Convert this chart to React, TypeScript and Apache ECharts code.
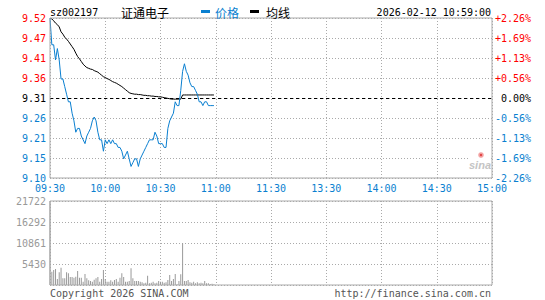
import React, { useEffect, useRef } from "react";
import * as echarts from "echarts";

// ---- data ----
const TIME_LABELS = ["09:30", "10:00", "10:30", "11:00", "11:30", "13:30", "14:00", "14:30", "15:00"];
const PRICE_LABELS = ["9.10", "9.15", "9.21", "9.26", "9.31", "9.36", "9.41", "9.47", "9.52"];
const PCT_LABELS = ["-2.26%", "-1.69%", "-1.13%", "-0.56%", " 0.00%", "+0.56%", "+1.13%", "+1.69%", "+2.26%"];
const VOL_LABELS = ["", "5430", "10861", "16292", "21722"];
const PRE_CLOSE = 9.31;
const MAX_PCT = 2.26;
const VOL_MAX = 21722;
const TOTAL_MINUTES = 240;

const PRICES = [
  9.52, 9.45, 9.45, 9.41, 9.44, 9.41, 9.36, 9.36, 9.34, 9.32,
  9.30, 9.30, 9.27, 9.25, 9.22, 9.23, 9.23, 9.21, 9.20, 9.19,
  9.21, 9.22, 9.23, 9.25, 9.26, 9.25, 9.22, 9.20, 9.20, 9.17,
  9.20, 9.19, 9.20, 9.19, 9.20, 9.19, 9.19, 9.18, 9.18, 9.17,
  9.15, 9.16, 9.17, 9.15, 9.13, 9.14, 9.15, 9.15, 9.13, 9.15,
  9.16, 9.17, 9.18, 9.19, 9.20, 9.20, 9.20, 9.22, 9.21, 9.19,
  9.19, 9.19, 9.18, 9.18, 9.23, 9.25, 9.26, 9.27, 9.30, 9.29,
  9.29, 9.33, 9.38, 9.40, 9.38, 9.37, 9.35, 9.34, 9.34, 9.33,
  9.32, 9.30, 9.30, 9.29, 9.30, 9.30, 9.29, 9.29, 9.29, 9.29,
];

const AVG = [
  9.520, 9.518, 9.513, 9.507, 9.503, 9.497, 9.484, 9.478, 9.470, 9.465,
  9.459, 9.452, 9.445, 9.438, 9.428, 9.419, 9.413, 9.406, 9.399, 9.394,
  9.390, 9.388, 9.386, 9.385, 9.382, 9.380, 9.378, 9.374, 9.370, 9.366,
  9.364, 9.361, 9.359, 9.356, 9.353, 9.351, 9.349, 9.346, 9.343, 9.340,
  9.336, 9.332, 9.328, 9.324, 9.322, 9.321, 9.320, 9.320, 9.319, 9.319,
  9.318, 9.317, 9.317, 9.316, 9.316, 9.315, 9.315, 9.314, 9.314, 9.313,
  9.313, 9.312, 9.311, 9.310, 9.309, 9.308, 9.307, 9.307, 9.307, 9.307,
  9.307, 9.307, 9.318, 9.318, 9.318, 9.318, 9.318, 9.318, 9.318, 9.318,
  9.318, 9.318, 9.318, 9.318, 9.318, 9.318, 9.318, 9.318, 9.318, 9.318,
];

const VOLUMES = [
  21722, 3450, 3880, 4140, 1550, 3280, 4480, 1720, 1720, 3280,
  3020, 2070, 2070, 1900, 2150, 3620, 1900, 1900, 860, 2840,
  1720, 1210, 1030, 860, 1380, 1720, 2070, 860, 1550, 3880,
  1550, 860, 860, 1210, 860, 1290, 1550, 860, 1900, 3020,
  2070, 860, 860, 1030, 4310, 1720, 1030, 1030, 1030, 860,
  690, 430, 600, 2410, 430, 600, 860, 430, 600, 1030,
  860, 860, 600, 690, 1290, 2590, 1030, 1550, 2840, 170,
  1030, 2760, 10800, 1030, 1030, 1290, 690, 600, 860, 430,
  690, 430, 600, 430, 1030, 430, 430, 260, 300, 200,
];

const BLUE = "#0a7fd0";
const RED = "#ff0000";
const GRAY = "#aaaaaa";
const MONO = "DejaVu Sans Mono";
const CJK = "Noto Sans CJK SC";

export default function App() {
  const ref = useRef<HTMLDivElement>(null);

  useEffect(() => {
    if (!ref.current) return;
    const chart = echarts.init(ref.current, undefined, { renderer: "svg" });
    const step = (PRE_CLOSE * MAX_PCT) / 100 / 4;
    const norm = (p: number) => (p - PRE_CLOSE) / step;
    const signColor = (v: any) => {
      const n = parseFloat(v);
      return n > 0.001 ? RED : n < -0.001 ? BLUE : "#000";
    };
    const dotted = { show: true, lineStyle: { color: GRAY, type: [1, 2] as any, width: 1 } };

    const text = (t: string, x: number, y: number, fill: string, font: string, align = "left") => ({
      type: "text",
      x,
      y,
      z: 50,
      style: {
        text: t,
        fill,
        font,
        textAlign: align,
        align,
        textVerticalAlign: "middle",
        verticalAlign: "middle",
      },
    });

    chart.setOption({
      animation: false,
      backgroundColor: "#fff",
      grid: [
        { left: 50, right: 53, top: 18, height: 160 },
        { left: 50, right: 53, top: 201, height: 84 },
      ],
      xAxis: [
        {
          gridIndex: 0,
          type: "value",
          min: 0,
          max: TOTAL_MINUTES,
          interval: 30,
          axisLine: { show: false },
          axisTick: { show: false },
          splitLine: dotted,
          axisLabel: {
            formatter: (v: number) => TIME_LABELS[Math.round(v / 30)],
            color: BLUE,
            fontFamily: MONO,
            fontSize: 10,
            margin: 5,
            showMinLabel: true,
            showMaxLabel: true,
          },
        },
        {
          gridIndex: 1,
          type: "value",
          min: 0,
          max: TOTAL_MINUTES,
          interval: 30,
          axisLine: { show: false },
          axisTick: { show: false },
          splitLine: dotted,
          axisLabel: { show: false },
        },
      ],
      yAxis: [
        {
          gridIndex: 0,
          type: "value",
          min: -4,
          max: 4,
          interval: 1,
          position: "left",
          axisLine: { show: false },
          axisTick: { show: false },
          splitLine: dotted,
          axisLabel: {
            formatter: (v: number) => PRICE_LABELS[Math.round(v) + 4],
            color: signColor,
            fontFamily: MONO,
            fontSize: 10,
            margin: 4,
            showMinLabel: true,
            showMaxLabel: true,
          },
        },
        {
          gridIndex: 0,
          type: "value",
          min: -4,
          max: 4,
          interval: 1,
          position: "right",
          axisLine: { show: false },
          axisTick: { show: false },
          splitLine: { show: false },
          axisLabel: {
            formatter: (v: number) => PCT_LABELS[Math.round(v) + 4],
            color: signColor,
            fontFamily: MONO,
            fontSize: 10,
            margin: 3,
            showMinLabel: true,
            showMaxLabel: true,
          },
        },
        {
          gridIndex: 1,
          type: "value",
          min: 0,
          max: VOL_MAX,
          interval: VOL_MAX / 4,
          position: "left",
          axisLine: { show: false },
          axisTick: { show: false },
          splitLine: dotted,
          axisLabel: {
            formatter: (v: number) => VOL_LABELS[Math.round(v / (VOL_MAX / 4))],
            color: "#999",
            fontFamily: MONO,
            fontSize: 10,
            margin: 4,
            showMinLabel: true,
            showMaxLabel: true,
          },
        },
      ],
      series: [
        {
          type: "line",
          xAxisIndex: 0,
          yAxisIndex: 0,
          data: AVG.map((p, i) => [i, norm(p)]),
          showSymbol: false,
          symbol: "none",
          lineStyle: { color: "#000", width: 1 },
          z: 3,
        },
        {
          type: "line",
          xAxisIndex: 0,
          yAxisIndex: 0,
          data: PRICES.map((p, i) => [i, norm(p)]),
          showSymbol: false,
          symbol: "none",
          lineStyle: { color: BLUE, width: 1 },
          z: 4,
          markLine: {
            silent: true,
            symbol: "none",
            label: { show: false },
            lineStyle: { color: "#000", type: [3, 3], width: 1 },
            data: [{ yAxis: 0 }],
          },
        },
        {
          type: "bar",
          xAxisIndex: 1,
          yAxisIndex: 2,
          data: VOLUMES.map((v, i) => [i, v]),
          barWidth: 1,
          itemStyle: { color: "#999" },
        },
      ],
      graphic: [
        // borders
        { type: "rect", z: 40, shape: { x: 50, y: 18, width: 442, height: 160 }, style: { fill: "none", stroke: GRAY, lineWidth: 1 } },
        { type: "rect", z: 40, shape: { x: 50, y: 201, width: 442, height: 84 }, style: { fill: "none", stroke: GRAY, lineWidth: 1 } },
        // header
        text("sz002197", 50, 12, "#000", `10px "${MONO}"`),
        text("证通电子", 121, 12, "#000", `12px "${CJK}"`),
        { type: "rect", z: 50, shape: { x: 201, y: 10, width: 9, height: 3 }, style: { fill: BLUE } },
        text("价格", 215, 12, BLUE, `12px "${CJK}"`),
        { type: "rect", z: 50, shape: { x: 250, y: 10, width: 9, height: 3 }, style: { fill: "#000" } },
        text("均线", 266, 12, "#000", `12px "${CJK}"`),
        text("2026-02-12 10:59:00", 491, 12, "#000", `10px "${MONO}"`, "right"),
        // sina logo
        { type: "rect", z: 45, shape: { x: 469, y: 151, width: 21, height: 20 }, style: { fill: "#fff" } },
        { type: "circle", z: 46, shape: { cx: 481, cy: 155, r: 2.8 }, style: { fill: "#f3a5a5" } },
        { type: "circle", z: 47, shape: { cx: 481, cy: 155, r: 1.2 }, style: { fill: "#e04040" } },
        text("sina", 469, 165, "#c4c4c4", `italic bold 11px "Liberation Sans"`),
        // footer
        text("Copyright 2026 SINA.COM", 50, 293, "#555", `10px "${MONO}"`),
        text("http://finance.sina.com.cn", 491, 293, "#555", `10px "${MONO}"`, "right"),
      ],
    });
    return () => chart.dispose();
  }, []);

  return (
    <div
      ref={ref}
      style={{ position: "absolute", left: 0, top: 0, width: 545, height: 300, background: "#fff" }}
    />
  );
}
